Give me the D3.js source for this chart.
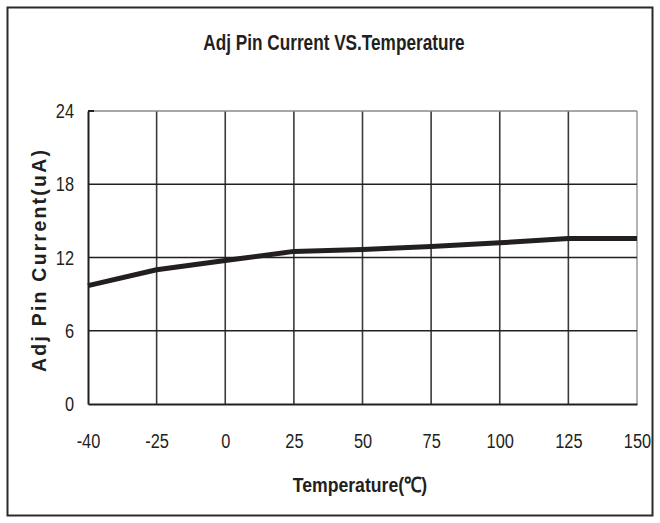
<!DOCTYPE html>
<html lang="en">
<head>
    <meta charset="UTF-8"/>
    <title>Adj Pin Current VS.Temperature</title>
    <script src="https://d3js.org/d3.v7.min.js"></script>
    <style>
        body { margin: 0; background: white; }
        text { font-family: "Liberation Sans", Arial, sans-serif; }
    </style>
</head>
<body>
<div id="chart"></div>
<script>
    const temps = ["-40", "-25", "0", "25", "50", "75", "100", "125", "150"];
    const current = [9.7, 11.0, 11.75, 12.5, 12.65, 12.9, 13.2, 13.55, 13.55];
    const yTicks = [0, 6, 12, 18, 24];

    const width = 660;
    const height = 523;
    const margin = {top: 111, right: 23, bottom: 119, left: 88};
    const gW = width - margin.left - margin.right;
    const gH = height - margin.top - margin.bottom;
    const narrow = 0.78; // fake a condensed face, no Arial Narrow here

    const svg = d3.select("#chart")
        .append("svg")
        .attr("width", width)
        .attr("height", height);

    // outer frame
    svg.append("rect")
        .attr("x", 7.5)
        .attr("y", 7.5)
        .attr("width", 645)
        .attr("height", 508)
        .attr("fill", "white")
        .attr("stroke", "#2a2a2a")
        .attr("stroke-width", 2);

    // Title
    svg.append("text")
        .attr("transform", `translate(334, 50) scale(0.8, 1)`)
        .style("font-size", "21.5px")
        .style("font-weight", "bold")
        .style("fill", "#231f20")
        .style("text-anchor", "middle")
        .text("Adj Pin Current VS.Temperature");

    const g = svg.append("g").attr("transform", `translate(${margin.left}, ${margin.top})`);

    const xScale = d3.scalePoint().domain(temps).range([0, gW]);
    const yScale = d3.scaleLinear().domain([0, 24]).range([gH, 0]);

    // vertical grid
    g.append("g")
        .selectAll("line")
        .data(temps.slice(1))
        .join("line")
        .attr("x1", d => xScale(d))
        .attr("x2", d => xScale(d))
        .attr("y1", 0)
        .attr("y2", gH)
        .attr("stroke", d => d === "150" ? "#a0a0a0" : "#3a3a3a")
        .attr("stroke-width", 1.6);

    // horizontal grid
    g.append("g")
        .selectAll("line")
        .data(yTicks.slice(1))
        .join("line")
        .attr("x1", 0)
        .attr("x2", gW)
        .attr("y1", d => yScale(d))
        .attr("y2", d => yScale(d))
        .attr("stroke", d => d === 24 ? "#8a8a8a" : "#231f20")
        .attr("stroke-width", 1.6);

    // Y axis
    const yAxis = g.append("g")
        .call(d3.axisLeft(yScale).tickValues(yTicks).tickSize(0).tickSizeOuter(0));
    yAxis.select(".domain").attr("stroke", "#231f20").attr("stroke-width", 2);
    yAxis.selectAll(".tick text")
        .attr("x", -14 / narrow)
        .attr("transform", `scale(${narrow}, 1)`)
        .style("font-size", "21px")
        .style("fill", "#231f20");

    // short mark at the top left corner
    yAxis.append("line")
        .attr("x1", 0)
        .attr("x2", 6)
        .attr("y1", yScale(24))
        .attr("y2", yScale(24))
        .attr("stroke", "#231f20")
        .attr("stroke-width", 2);

    // X axis
    const xAxis = g.append("g")
        .attr("transform", `translate(0, ${gH})`)
        .call(d3.axisBottom(xScale).tickSize(0).tickPadding(29));
    xAxis.select(".domain").attr("stroke", "#231f20").attr("stroke-width", 2);
    xAxis.selectAll(".tick text")
        .attr("transform", `scale(${narrow}, 1)`)
        .style("font-size", "21px")
        .style("fill", "#231f20");

    // axis titles
    svg.append("text")
        .attr("transform", `translate(360, 492) scale(0.84, 1)`)
        .style("font-size", "21px")
        .style("font-weight", "bold")
        .style("fill", "#231f20")
        .style("text-anchor", "middle")
        .text("Temperature(℃)");

    svg.append("text")
        .attr("transform", `translate(46, 261) rotate(-90)`)
        .attr("textLength", 222)
        .attr("lengthAdjust", "spacing")
        .style("font-size", "19.5px")
        .style("font-weight", "bold")
        .style("fill", "#231f20")
        .style("text-anchor", "middle")
        .text("Adj Pin Current(uA)");

    // curve
    const line = d3.line()
        .x((d, i) => xScale(temps[i]))
        .y(d => yScale(d));

    g.append("path")
        .attr("d", line(current))
        .attr("fill", "none")
        .attr("stroke", "#231f20")
        .attr("stroke-width", 5)
        .attr("stroke-linejoin", "round");
</script>
</body>
</html>
